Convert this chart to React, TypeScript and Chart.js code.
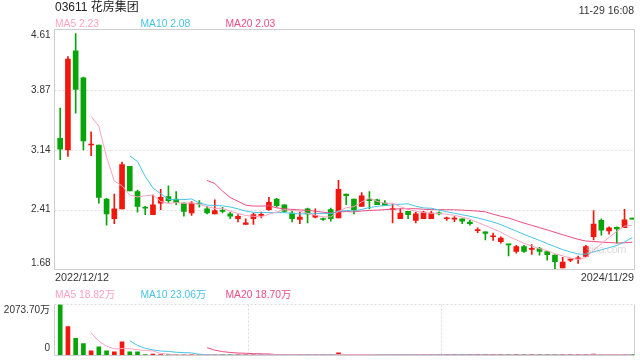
import React, { useEffect, useRef } from "react";
import { Chart, registerables } from "chart.js";

Chart.register(...registerables);

// ---------- data ----------
const opens = [
  3.28, 3.14, 4.35, 4.02, 3.2, 3.2, 2.54, 2.3, 2.42, 2.94,
  2.63, 2.44, 2.35, 2.49, 2.57, 2.54, 2.49, 2.37, 2.49, 2.42,
  2.36, 2.4, 2.36, 2.3, 2.23, 2.3, 2.34, 2.41, 2.54, 2.47,
  2.37, 2.29, 2.42, 2.32, 2.3, 2.41, 2.31, 2.6, 2.54, 2.45,
  2.54, 2.53, 2.49, 2.41, 2.3, 2.39, 2.28, 2.3, 2.3, 2.37,
  2.3, 2.295, 2.3, 2.26, 2.155, 2.14, 2.08, 2.02, 1.985, 1.9,
  1.96, 1.925, 1.935, 1.9, 1.855, 1.7, 1.795, 1.81, 1.84, 2.08,
  2.28, 2.15, 2.195, 2.19, 2.3,
];
const highs = [
  3.65, 4.28, 4.56, 4.03, 3.36, 3.2, 2.55, 2.6, 2.99, 2.94,
  2.65, 2.45, 2.59, 2.66, 2.7, 2.63, 2.49, 2.51, 2.52, 2.45,
  2.53, 2.44, 2.38, 2.35, 2.3, 2.37, 2.38, 2.56, 2.55, 2.47,
  2.39, 2.38, 2.43, 2.42, 2.31, 2.43, 2.77, 2.6, 2.54, 2.62,
  2.63, 2.54, 2.52, 2.48, 2.42, 2.39, 2.38, 2.39, 2.39, 2.385,
  2.32, 2.325, 2.3, 2.28, 2.19, 2.14, 2.125, 2.08, 1.985, 1.975,
  1.975, 1.985, 1.95, 1.9, 1.86, 1.83, 1.81, 1.845, 1.975, 2.4,
  2.3, 2.2, 2.2, 2.415, 2.3,
];
const lows = [
  3.02, 3.06, 3.59, 3.14, 3.07, 2.49, 2.22, 2.24, 2.42, 2.64,
  2.38, 2.35, 2.35, 2.41, 2.5, 2.47, 2.33, 2.34, 2.44, 2.36,
  2.36, 2.37, 2.3, 2.26, 2.23, 2.23, 2.31, 2.4, 2.44, 2.38,
  2.26, 2.24, 2.25, 2.31, 2.28, 2.27, 2.31, 2.47, 2.36, 2.45,
  2.42, 2.47, 2.46, 2.25, 2.3, 2.3, 2.25, 2.3, 2.3, 2.345,
  2.28, 2.265, 2.24, 2.22, 2.13, 2.04, 2.035, 2.0, 1.845, 1.88,
  1.89, 1.865, 1.855, 1.795, 1.69, 1.7, 1.775, 1.755, 1.835, 2.04,
  2.1, 2.11, 2.0, 2.19, 2.295,
];
const closes = [
  3.15, 4.25, 3.88, 3.25, 3.21, 2.56, 2.36, 2.42, 2.96, 2.64,
  2.45, 2.43, 2.47, 2.56, 2.52, 2.5, 2.39, 2.49, 2.48, 2.37,
  2.4, 2.39, 2.33, 2.33, 2.25, 2.35, 2.35, 2.5, 2.46, 2.39,
  2.3, 2.32, 2.36, 2.34, 2.29, 2.3, 2.66, 2.58, 2.41, 2.58,
  2.52, 2.47, 2.46, 2.42, 2.37, 2.35, 2.36, 2.38, 2.37, 2.36,
  2.3, 2.3, 2.27, 2.24, 2.16, 2.12, 2.09, 2.065, 1.98, 1.96,
  1.9, 1.93, 1.9, 1.86, 1.775, 1.77, 1.8, 1.815, 1.96, 2.235,
  2.16, 2.19, 2.175, 2.285, 2.295,
];
// volume, in 万
const volumes = [
  2073.7, 1177, 694, 487, 186, 351, 186, 145, 558, 145,
  145, 33, 62, 25, 12, 22, 20, 22, 10, 12,
  25, 12, 15, 18, 20, 22, 30, 40, 22, 25,
  28, 18, 26, 15, 20, 18, 105, 30, 20, 32,
  25, 24, 22, 28, 26, 20, 25, 18, 16, 8,
  12, 14, 15, 12, 13, 12, 14, 13, 15, 11,
  14, 13, 16, 17, 18.4, 15, 12, 14, 35.5, 60,
  25, 20, 18, 22, 9.1,
];

const priceTicks = [1.68, 2.41, 3.14, 3.87, 4.61];
const volumeMax = 2073.7;
const volumeTickLabels = ["0", "2073.70万"];
const dateLabels = ["2022/12/12", "2024/11/29"];
const titleText = "03611 花房集团";
const timeText = "11-29 16:08";
const maPeriods = [5, 10, 20];
const priceMALegend = ["MA5 2.23", "MA10 2.08", "MA20 2.03"];
const volumeMALegend = ["MA5 18.82万", "MA10 23.06万", "MA20 18.70万"];

// ---------- styles ----------
const UP = "#f2170e";
const DOWN = "#08a508";
const MA_COLORS = ["#fba2c2", "#47c4e4", "#ee4c80"];
const GRID = "#dcdcdc";
const FRAME = "#cdcdcd";
const TEXT = "#333333";
const FONT = '"Liberation Sans", Arial, "Noto Sans CJK SC", sans-serif';

function movingAverage(values: number[], n: number) {
  const out: { x: number; y: number }[] = [];
  for (let i = n - 1; i < values.length; i++) {
    let s = 0;
    for (let k = i - n + 1; k <= i; k++) s += values[k];
    out.push({ x: i, y: s / n });
  }
  return out;
}

const X_MIN = -0.737;
const X_MAX = 74.29;

function hLine(ctx: CanvasRenderingContext2D, x1: number, x2: number, y: number) {
  ctx.beginPath();
  ctx.moveTo(x1, y);
  ctx.lineTo(x2, y);
  ctx.stroke();
}
function vLine(ctx: CanvasRenderingContext2D, x: number, y1: number, y2: number) {
  ctx.beginPath();
  ctx.moveTo(x, y1);
  ctx.lineTo(x, y2);
  ctx.stroke();
}

const pricePlugin = {
  id: "priceFrame",
  beforeDatasetsDraw(chart: any) {
    const { ctx, chartArea: a, scales } = chart;
    ctx.save();
    ctx.strokeStyle = GRID;
    ctx.lineWidth = 1;
    ctx.setLineDash([2, 2]);
    priceTicks.slice(1, -1).forEach((t) => {
      const py = Math.round(scales.y.getPixelForValue(t)) + 0.5;
      hLine(ctx, a.left, a.right, py);
    });
    ctx.restore();
  },
  afterDraw(chart: any) {
    const { ctx, chartArea: a, scales } = chart;
    ctx.save();
    ctx.strokeStyle = FRAME;
    ctx.lineWidth = 1;
    ctx.strokeRect(a.left, a.top, a.right - a.left, a.bottom - a.top);
    ctx.fillStyle = TEXT;
    ctx.font = `10px ${FONT}`;
    ctx.textAlign = "right";
    ctx.textBaseline = "middle";
    priceTicks.forEach((t, i) => {
      let py = scales.y.getPixelForValue(t);
      if (i === 0) py -= 6;
      if (i === priceTicks.length - 1) py += 5.5;
      ctx.fillText(t.toFixed(2), a.left - 4, py);
    });
    ctx.restore();
  },
};

const volumePlugin = {
  id: "volumeFrame",
  beforeDatasetsDraw(chart: any) {
    const { ctx, chartArea: a } = chart;
    ctx.save();
    ctx.strokeStyle = GRID;
    ctx.lineWidth = 1;
    ctx.setLineDash([2, 2]);
    hLine(ctx, a.left, a.right, a.top);
    const w = a.right - a.left;
    vLine(ctx, Math.round(a.left + w / 3) + 0.5, a.top, a.bottom);
    vLine(ctx, Math.round(a.left + (2 * w) / 3) + 0.5, a.top, a.bottom);
    ctx.restore();
  },
  afterDraw(chart: any) {
    const { ctx, chartArea: a, scales } = chart;
    ctx.save();
    ctx.strokeStyle = FRAME;
    ctx.lineWidth = 1;
    vLine(ctx, a.left, a.top, a.bottom);
    vLine(ctx, a.right, a.top, a.bottom);
    hLine(ctx, a.left, a.right, a.bottom);
    ctx.fillStyle = TEXT;
    ctx.font = `10px ${FONT}`;
    ctx.textAlign = "right";
    ctx.textBaseline = "middle";
    ctx.fillText(volumeTickLabels[0], a.left - 4.5, scales.y.getPixelForValue(0) - 7);
    ctx.fillText(volumeTickLabels[1], a.left - 4.5, scales.y.getPixelForValue(volumeMax) + 6);
    ctx.restore();
  },
};

export default function App() {
  const priceRef = useRef<HTMLCanvasElement>(null);
  const volRef = useRef<HTMLCanvasElement>(null);

  useEffect(() => {
    const idx = closes.map((_, i) => i);
    const colors = idx.map((i) => (closes[i] >= opens[i] ? UP : DOWN));

    const maSets = (values: number[]) =>
      maPeriods.map((n, k) => ({
        type: "line" as const,
        label: `MA${n}`,
        data: movingAverage(values, n),
        borderColor: MA_COLORS[k],
        borderWidth: 1,
        pointRadius: 0,
        fill: false,
        tension: 0,
        order: 0,
      }));

    const common = {
      responsive: false,
      devicePixelRatio: 1,
      animation: false as const,
      events: [] as any[],
      plugins: { legend: { display: false }, tooltip: { enabled: false } },
    };

    const price = new Chart(priceRef.current!, {
      type: "bar",
      data: {
        datasets: [
          ...maSets(closes),
          {
            type: "bar",
            label: "body",
            data: idx.map((i) => ({ x: i, y: [opens[i], closes[i]] })) as any,
            backgroundColor: colors,
            barThickness: 5,
            grouped: false,
            minBarLength: 1,
            order: 1,
          },
          {
            type: "bar",
            label: "wick",
            data: idx.map((i) => ({ x: i, y: [lows[i], highs[i]] })) as any,
            backgroundColor: colors,
            barThickness: 1,
            grouped: false,
            minBarLength: 1,
            order: 2,
          },
        ] as any,
      },
      options: {
        ...common,
        layout: { padding: { left: 54.5, right: 5.5, top: 29.5, bottom: 15.5 } },
        scales: {
          x: { type: "linear", min: X_MIN, max: X_MAX, display: false, offset: false },
          y: { type: "linear", min: priceTicks[0], max: priceTicks[priceTicks.length - 1], display: false, beginAtZero: false },
        },
      } as any,
      plugins: [pricePlugin],
    });

    const vol = new Chart(volRef.current!, {
      type: "bar",
      data: {
        datasets: [
          ...maSets(volumes),
          {
            type: "bar",
            label: "volume",
            data: idx.map((i) => ({ x: i, y: volumes[i] })) as any,
            backgroundColor: colors,
            barThickness: 4,
            grouped: false,
            minBarLength: 1,
            order: 1,
          },
        ] as any,
      },
      options: {
        ...common,
        layout: { padding: { left: 54.5, right: 5.5, top: 19.5, bottom: 4.5 } },
        scales: {
          x: { type: "linear", min: X_MIN, max: X_MAX, display: false, offset: false },
          y: { type: "linear", min: 0, max: volumeMax, display: false },
        },
      } as any,
      plugins: [volumePlugin],
    });

    return () => {
      price.destroy();
      vol.destroy();
    };
  }, []);

  const abs = (s: React.CSSProperties): React.CSSProperties => ({
    position: "absolute",
    whiteSpace: "nowrap",
    fontFamily: FONT,
    ...s,
  });
  const legendX = [55, 140.5, 225.5];

  return (
    <div
      style={{
        position: "absolute",
        left: 0,
        top: 0,
        width: 640,
        height: 360,
        background: "#fff",
        overflow: "hidden",
      }}
    >
      <canvas ref={priceRef} width={640} height={285} style={{ position: "absolute", left: 0, top: 0 }} />
      <canvas ref={volRef} width={640} height={75} style={{ position: "absolute", left: 0, top: 285 }} />
      <div style={abs({ left: 55, top: 1, fontSize: 12, lineHeight: "13px", color: "#222" })}>{titleText}</div>
      <div style={abs({ right: 6, top: 3.5, fontSize: 10.5, lineHeight: "12px", color: TEXT })}>{timeText}</div>
      {priceMALegend.map((t, k) => (
        <div key={t} style={abs({ left: legendX[k], top: 18, fontSize: 10.3, lineHeight: "12px", color: MA_COLORS[k] })}>
          {t}
        </div>
      ))}
      <div style={abs({ left: 55, top: 271, fontSize: 10.8, lineHeight: "12px", color: TEXT })}>{dateLabels[0]}</div>
      <div style={abs({ right: 6, top: 271, fontSize: 10.8, lineHeight: "12px", color: TEXT })}>{dateLabels[1]}</div>
      {volumeMALegend.map((t, k) => (
        <div key={t} style={abs({ left: legendX[k], top: 289, fontSize: 10.3, lineHeight: "12px", color: MA_COLORS[k] })}>
          {t}
        </div>
      ))}
      <div style={abs({ left: 586, top: 243, fontSize: 11, lineHeight: "12px", letterSpacing: "-0.5px", color: "rgba(190,190,190,0.55)" })}>
        sina.com
      </div>
    </div>
  );
}
